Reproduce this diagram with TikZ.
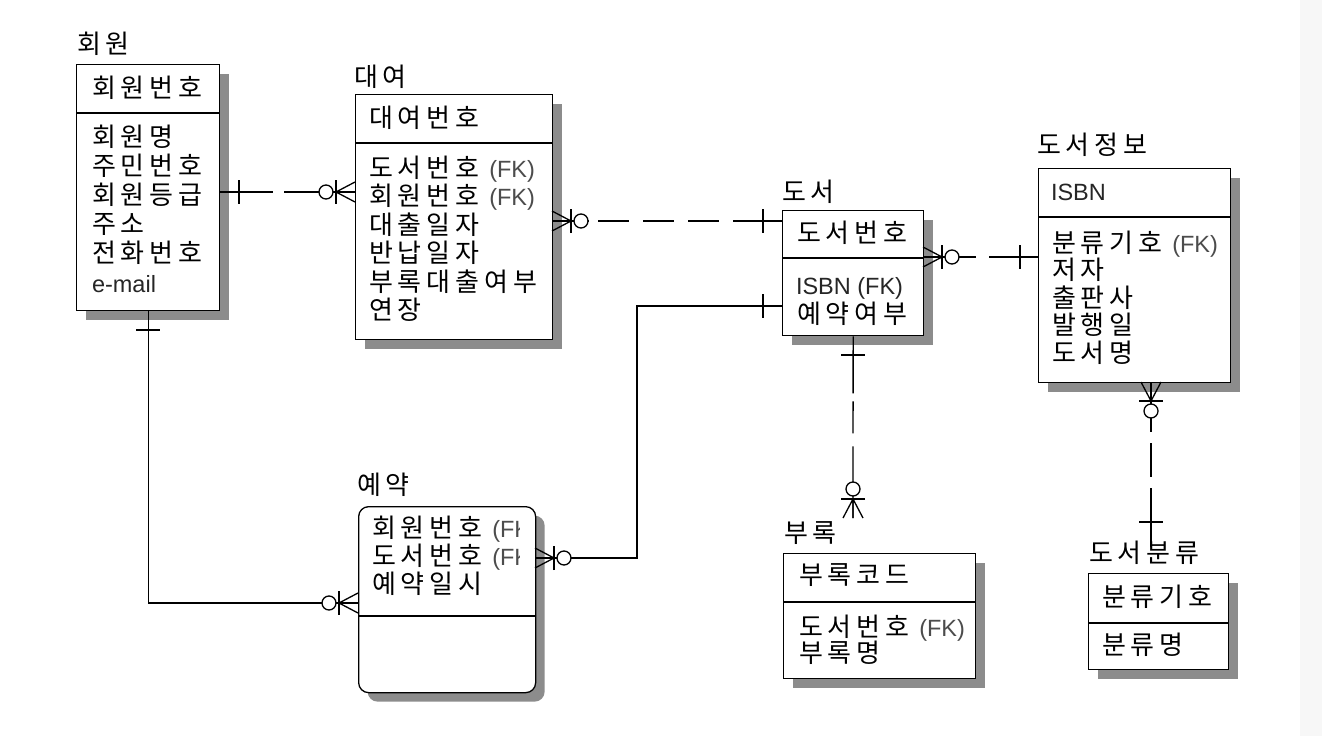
\documentclass[tikz,border=0pt]{standalone}
\usepackage{fontspec}
\newfontfamily\krf{Noto Sans CJK KR}
\newfontfamily\ltf{Liberation Sans}
\usetikzlibrary{shadows}
\ExplSyntaxOn
\cs_new_protected:Npn \krspaced #1 { \tl_map_inline:nn {#1} { ##1 \kern 4.9pt } }
\ExplSyntaxOff
\newcommand\krtxt[1]{{\krf\fontsize{26}{28}\selectfont\krspaced{#1}}}
\newcommand\lttxt[1]{{\ltf\fontsize{23.5}{28}\selectfont #1}}
\newcommand\fktxt{\hspace{5pt}{\color{black!70}\lttxt{(FK)}}}
\tikzset{
  ent/.style={draw, line width=1.3pt, fill=white, anchor=north west, inner sep=0pt,
    drop shadow={shadow xshift=9pt, shadow yshift=-9pt, fill=black!45, opacity=1}},
  lbl/.style={anchor=base west, inner sep=0pt, outer sep=0pt},
  conn/.style={line width=1.3pt},
  sepline/.style={line width=1.3pt},
  onetick/.pic={\draw[conn] (0,-12) -- (0,12);},
  zmany/.pic={
    \draw[conn] (-19,0) -- (0,-10) (-19,0) -- (0,10) (-19,0) -- (0,0);
    \draw[conn] (-19,-12) -- (-19,12);
    \draw[conn, fill=white] (-29,0) circle[radius=7pt];
  }
}
\begin{document}
\begin{tikzpicture}[x=1pt,y=-1pt]
\useasboundingbox (0,0) rectangle (1322,736);
\fill[white] (0,0) rectangle (1322,736);
\fill[black!3] (1300,0) rectangle (1322,736);

% ---------- entities ----------
\node[ent, minimum width=143pt, minimum height=246pt] (hw) at (76,64) {};
\node[ent, minimum width=197pt, minimum height=245pt] (dy) at (355,94) {};
\node[ent, minimum width=141pt, minimum height=125pt] (ds) at (782,210) {};
\node[ent, minimum width=192pt, minimum height=214pt] (di) at (1038,168) {};
\node[ent, rounded corners=10pt, minimum width=177pt, minimum height=186pt] (yy) at (358,506) {};
\node[ent, minimum width=192pt, minimum height=125pt] (bl) at (783,553) {};
\node[ent, minimum width=140pt, minimum height=96pt] (bf) at (1088,573) {};

\draw[sepline] (hw.west |- 0,113) -- (hw.east |- 0,113);
\draw[sepline] (dy.west |- 0,143) -- (dy.east |- 0,143);
\draw[sepline] (ds.west |- 0,258) -- (ds.east |- 0,258);
\draw[sepline] (di.west |- 0,217) -- (di.east |- 0,217);
\draw[sepline] (yy.west |- 0,616) -- (yy.east |- 0,616);
\draw[sepline] (bl.west |- 0,602) -- (bl.east |- 0,602);
\draw[sepline] (bf.west |- 0,623) -- (bf.east |- 0,623);

% ---------- titles ----------
\node[lbl] (hwT) at (77,53) {\krtxt{회원}};
\node[lbl] (dyT) at (354,86) {\krtxt{대여}};
\node[lbl] (dsT) at (782,201) {\krtxt{도서}};
\node[lbl] (diT) at (1037,154) {\krtxt{도서정보}};
\node[lbl] (yyT) at (357,494) {\krtxt{예약}};
\node[lbl] (blT) at (784,542) {\krtxt{부록}};
\node[lbl] (bfT) at (1089,562) {\krtxt{도서분류}};

% ---------- 회원 ----------
\node[lbl] (hw0) at (92,97) {\krtxt{회원번호}};
\node[lbl] (hw1) at (92,146) {\krtxt{회원명}};
\node[lbl] (hw2) at (92,175) {\krtxt{주민번호}};
\node[lbl] (hw3) at (92,204) {\krtxt{회원등급}};
\node[lbl] (hw4) at (92,233) {\krtxt{주소}};
\node[lbl] (hw5) at (92,262) {\krtxt{전화번호}};
\node[lbl] (hw6) at (92,292) {\color{black!85}\lttxt{e-mail}};

% ---------- 대여 ----------
\node[lbl] (dy0) at (369,127) {\krtxt{대여번호}};
\node[lbl] (dy1) at (369,177) {\krtxt{도서번호}\fktxt};
\node[lbl] (dy2) at (369,205.5) {\krtxt{회원번호}\fktxt};
\node[lbl] (dy3) at (369,234) {\krtxt{대출일자}};
\node[lbl] (dy4) at (369,262.5) {\krtxt{반납일자}};
\node[lbl] (dy5) at (369,291) {\krtxt{부록대출여부}};
\node[lbl] (dy6) at (369,319.5) {\krtxt{연장}};

% ---------- 도서 ----------
\node[lbl] (ds0) at (797,242) {\krtxt{도서번호}};
\node[lbl] (ds1) at (796,294) {\color{black!85}\lttxt{ISBN (FK)}};
\node[lbl] (ds2) at (797,323) {\krtxt{예약여부}};

% ---------- 도서정보 ----------
\node[lbl] (di0) at (1051,200) {\color{black!85}\lttxt{ISBN}};
\node[lbl] (di1) at (1052,252) {\krtxt{분류기호}\fktxt};
\node[lbl] (di2) at (1052,279.5) {\krtxt{저자}};
\node[lbl] (di3) at (1052,307) {\krtxt{출판사}};
\node[lbl] (di4) at (1052,334.5) {\krtxt{발행일}};
\node[lbl] (di5) at (1052,362) {\krtxt{도서명}};

% ---------- 예약 (clipped text) ----------
\begin{scope}
\clip (358,506) rectangle (519,692);
\node[lbl] (yy1) at (372,537) {\krtxt{회원번호}\fktxt};
\node[lbl] (yy2) at (372,565) {\krtxt{도서번호}\fktxt};
\node[lbl] (yy3) at (372,593) {\krtxt{예약일시}};
\end{scope}

% ---------- 부록 ----------
\node[lbl] (bl0) at (799,584) {\krtxt{부록코드}};
\node[lbl] (bl1) at (799,636) {\krtxt{도서번호}\fktxt};
\node[lbl] (bl2) at (799,662) {\krtxt{부록명}};

% ---------- 도서분류 ----------
\node[lbl] (bf0) at (1102,606) {\krtxt{분류기호}};
\node[lbl] (bf1) at (1102,654) {\krtxt{분류명}};

% ---------- connectors ----------
% 회원 - 대여
\draw[conn, dash pattern=on 53pt off 11pt on 300pt off 1pt] (hw.east |- 0,192) -- (dy.west |- 0,192);
\pic at (239,192) {onetick};
\pic at (355,192) {zmany};
% 대여 - 도서
\draw[conn, dash pattern=on 36pt off 9pt on 31pt off 14pt on 31pt off 14pt on 31pt off 14pt on 300pt off 1pt] (dy.east |- 0,221) -- (ds.west |- 0,221);
\pic[rotate=180] at (552,221) {zmany};
\pic at (763,221) {onetick};
% 도서 - 도서정보
\draw[conn, dash pattern=on 52pt off 13pt on 300pt off 1pt] (ds.east |- 0,257) -- (di.west |- 0,257);
\pic[rotate=180] at (923,257) {zmany};
\pic at (1020,257) {onetick};
% 도서 - 부록
\coordinate (blEnd) at (853,518);
\draw[conn, dash pattern=on 57pt off 8pt on 32pt off 13pt on 300pt off 1pt] (ds.south) -- (blEnd);
\pic[rotate=90] at (853,355) {onetick};
\pic[rotate=-90] at (blEnd) {zmany};
% 도서정보 - 도서분류
\coordinate (diOut) at (1151,382);
\coordinate (bfEnd) at (1151,547);
\draw[conn, dash pattern=on 50pt off 11pt on 34pt off 11pt on 300pt off 1pt] (diOut) -- (bfEnd);
\pic[rotate=90] at (diOut) {zmany};
\pic[rotate=90] at (1151,522) {onetick};
% 회원 - 예약
\draw[conn] (hw.south) |- (yy.west |- 0,603);
\pic[rotate=90] at (148,330) {onetick};
\pic at (358,603) {zmany};
% 예약 - 도서
\coordinate (bend) at (637,558);
\draw[conn] (yy.east |- 0,558) -- (bend) |- (ds.west |- 0,306);
\pic[rotate=180] at (535,558) {zmany};
\pic at (763,306) {onetick};
\end{tikzpicture}
\end{document}
